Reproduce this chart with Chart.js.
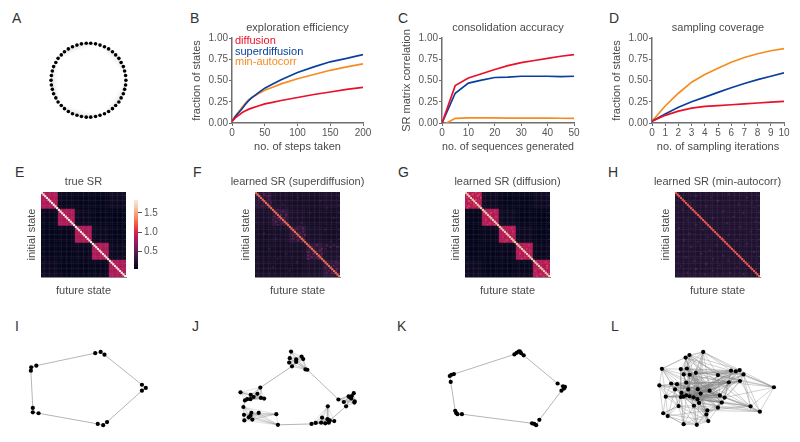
<!DOCTYPE html>
<html>
<head>
<meta charset="utf-8">
<title>Exploration figure</title>
<script src="https://cdn.jsdelivr.net/npm/chart.js@4"></script>
<style>
body { margin: 0; background: #fff; width: 800px; height: 442px; position: relative; overflow: hidden; }
canvas { position: absolute; }
.tag { position: absolute; font: 14px "Liberation Sans", Arial, sans-serif; color: #333; line-height: 14px; }
.key { position: absolute; font: 11px "Liberation Sans", Arial, sans-serif; line-height: 13px; left: 235px; }
</style>
</head>
<body>
<script>
// panel letters
const tags = [["A",12,11],["B",190,11],["C",398,11],["D",609,11],
              ["E",15,165],["F",193,165],["G",398,165],["H",608,165],
              ["I",15,319],["J",192,319],["K",397,319],["L",611,319]];

// top row curves
const seriesNames = ["diffusion", "superdiffusion", "min-autocorr"];
const seriesColors = ["#e8102a", "#0b3f9e", "#f68b1f"];
const keyTops = [34, 44.5, 55];

const stepsX = [0,5,10,15,20,25,30,40,50,60,75,100,125,150,175,200];
const stepsDiffusion = [.02,.06,.09,.12,.14,.16,.175,.20,.225,.24,.265,.30,.335,.365,.395,.42];
const stepsSuper = [.02,.075,.12,.165,.215,.26,.295,.355,.41,.45,.51,.595,.66,.72,.76,.805];
const stepsMinAuto = [.02,.08,.13,.18,.23,.27,.30,.345,.385,.415,.46,.52,.57,.62,.66,.695];

const seqX = [0,5,10,15,20,25,30,35,40,45,50];
const seqDiffusion = [0,.44,.53,.58,.63,.675,.71,.735,.76,.785,.805];
const seqSuper = [0,.35,.47,.505,.535,.54,.55,.55,.55,.545,.55];
const seqMinAuto = [-.03,.055,.06,.06,.06,.058,.058,.057,.057,.056,.055];

const iterX = [0,1,2,3,4,5,6,7,8,9,10];
const iterDiffusion = [.02,.09,.14,.175,.195,.205,.215,.225,.235,.245,.255];
const iterSuper = [.02,.105,.185,.25,.305,.36,.415,.465,.51,.55,.59];
const iterMinAuto = [.02,.2,.35,.48,.57,.645,.715,.77,.815,.85,.875];

// heatmaps: 5x5 block levels, diagonal level, bright single cells [row, col, value]
const trueBlocks = [[.8,.07,.05,.05,.1],[.05,.8,.08,.05,.04],[.04,.06,.8,.08,.05],[.05,.05,.07,.8,.08],[.08,.05,.05,.06,.8]];
const superBlocks = [[.26,.17,.15,.15,.17],[.17,.26,.17,.14,.14],[.14,.16,.25,.17,.14],[.14,.14,.16,.27,.18],[.16,.14,.14,.17,.27]];
const diffBlocks = [[.82,.1,.05,.05,.1],[.05,.82,.09,.05,.04],[.04,.07,.82,.09,.05],[.05,.05,.07,.82,.07],[.09,.05,.05,.07,.82]];
const minBlocks = [[.2,.2,.2,.2,.2],[.2,.2,.2,.2,.2],[.2,.2,.2,.2,.2],[.2,.2,.2,.2,.2],[.2,.2,.2,.2,.2]];
const trueDiag = 1.84, superDiag = 1.25, diffDiag = 1.65, minDiag = 1.18;
const trueHot = [];
const superHot = [[1,5,.45],[2,6,.42],[2,8,.5],[3,7,.38],[4,2,.4],[4,8,.42],[5,5,.5],[6,2,.38],[6,9,.42],[7,7,.36],[8,4,.4],
  [10,13,.5],[11,16,.55],[12,12,.42],[13,15,.5],[13,18,.55],[14,11,.5],[15,13,.6],[15,17,.42],[16,10,.45],[16,14,.52],[17,12,.55],[18,16,.46],[18,19,.5],[19,13,.4],
  [20,26,.42],[21,28,.5],[22,23,.42],[23,28,.48],[24,26,.52],[25,22,.45],[25,29,.55],[26,24,.46],[27,22,.5],[27,28,.44],[28,25,.5],[29,27,.42],[21,24,.38],
  [31,36,.55],[32,33,.42],[33,39,.6],[34,38,.55],[35,31,.52],[35,35,.45],[36,34,.6],[37,31,.55],[37,38,.5],[38,33,.6],[38,36,.48],[39,31,.55],[39,37,.5],[36,39,.52],
  [31,42,.42],[31,46,.42],[32,44,.45],[32,48,.42],[33,41,.38],
  [41,47,.42],[42,42,.5],[43,46,.55],[44,41,.4],[45,48,.5],[46,43,.5],[46,47,.52],[47,42,.46],[47,45,.5],[48,46,.45],
  [3,25,.32],[7,16,.34],[5,38,.3],[9,42,.32],[12,32,.32],[15,46,.3],[18,27,.33],[22,41,.3],[24,5,.33],[27,12,.34],[33,8,.34],[36,18,.34],[41,24,.33],[44,10,.34],[46,20,.33],[39,13,.3],[29,44,.33]];
const diffHot = [[1,4,1.1],[1,8,1.05],[2,7,1.15],[3,1,1.05],[3,9,1.1],[4,6,1.1],[5,2,1.15],[6,3,1.05],[7,5,1.05],[8,2,1.1],[8,6,1],[9,1,1.1],[9,8,1],[0,6,1.1],
  [11,17,1],[12,15,1.05],[14,18,1],[16,12,1.05],[18,14,1],[19,13,1.05],[19,17,1],[13,11,.98],
  [21,27,1],[23,28,1.05],[26,22,1],[28,24,1.05],[29,28,1.1],[29,23,1],
  [31,37,1],[33,36,1.05],[36,32,1.05],[38,35,1],[39,33,1.1],[34,38,.98],
  [41,47,1.05],[43,48,1.1],[45,43,1],[46,41,1.05],[48,44,1.1],[49,46,1.05],[49,42,1],[44,48,1]];
const minHot = [[2,12,.42],[1,31,.4],[3,42,.45],[5,25,.42],[6,9,.4],[7,37,.44],[8,18,.38],[9,46,.4],[10,4,.42],[11,28,.42],[12,40,.4],[13,14,.38],[14,34,.46],
  [15,22,.4],[16,7,.4],[17,47,.42],[18,30,.4],[19,12,.4],[20,38,.44],[21,2,.4],[22,16,.4],[23,44,.4],[24,8,.38],[25,31,.42],[26,19,.42],[27,28,.6],[28,36,.4],[28,5,.42],
  [29,13,.42],[30,42,.42],[31,24,.42],[32,9,.42],[33,33,.5],[34,20,.44],[35,2,.4],[35,46,.42],[36,15,.42],[37,28,.4],[37,38,.42],[38,6,.42],[39,22,.4],[40,11,.42],
  [40,31,.42],[41,43,.4],[42,18,.44],[43,3,.42],[43,26,.42],[44,36,.4],[45,12,.44],[45,47,.42],[46,22,.38],[47,7,.42],[47,32,.4],[48,17,.4],[48,40,.4],[3,21,.36],[4,4,.36],[6,45,.36]];
const colorbarTicks = [.5, 1, 1.5];
const rocketStops = ["#03051a","#221331","#451c47","#701f57","#a11a5b","#cb1b4f","#ed3f47","#f37651","#f6a47c","#f6cdb0","#faebdd"];

// ring layout in panel A
const ringX = [381,380,377,373,366,359,349,339,327,314,300,286,271,257,242,228,214,201,189,179,169,162,155,151,148,147,148,151,155,162,169,179,189,201,214,228,242,257,271,286,300,314,327,339,349,359,366,373,377,380];
const ringY = [241,256,270,284,297,310,321,331,340,347,352,356,358,358,356,352,347,340,331,321,310,297,284,270,256,241,226,212,198,185,172,161,151,142,135,130,126,124,124,126,130,135,142,151,161,172,185,198,212,226];

// network layouts
const iX = [285,302,314,431,443,431,322,310,293,108,90,90,84,85,101];
const iY = [125,121,130,226,236,245,345,355,351,317,314,300,181,170,165];
const iLinks = [[2,3],[5,6],[8,9],[11,12],[14,0],[0,1],[1,2],[3,4],[4,5],[6,7],[7,8],[9,10],[10,11],[12,13],[13,14]];

const jX = [272,305,310,268,288,288,266,275,317,323, 468,462,452,460,420,437,471,470,444,455, 387,369,386,393,407,379,366,390,349,336, 231,226,171,148,145,140,151,126,125,123, 176,114,167,146,155,145,135,128,178,188];
const jY = [120,136,144,141,145,153,155,167,177,178, 253,262,263,270,273,281,279,283,295,265, 295,331,336,340,342,349,347,347,348,351, 354,320,316,316,325,330,337,340,322,297, 235,250,255,258,265,272,272,276,268,270];
const jLinks = [[7,40],[9,14],[18,23],[29,30],[39,47]];

const kX = [345,358,362,366,374,352,480,497,503,500,492,423,413,407,400,181,160,163,167,146,143,148,156];
const kY = [129,120,119,125,132,124,222,231,233,238,245,338,355,351,349,320,309,316,320,217,198,194,192];
const kLinks = [[4,6],[10,11],[14,15],[16,19],[22,0],[6,7],[7,8],[8,9],[9,10],[11,12],[12,13],[13,14],[15,17],[17,18],[18,16],[19,20],[20,21],[21,22],[0,5],[5,1],[1,2],[2,3],[3,4]];

const lX = [310,267,255,181,240,259,249,268,287,356,397,412,424,436,425,390,210,228,257,173,222,242,263,293,330,302,362,377,193,240,248,257,267,280,292,297,368,281,233,356,458,487,531,323,320,185,199,326,249,290];
const lY = [121,131,139,175,176,174,193,194,188,195,181,183,179,193,214,218,222,224,219,228,241,252,241,240,245,254,260,267,264,265,264,260,263,266,272,284,283,293,294,299,295,312,234,308,321,317,326,342,352,354];
const lNeighbours = [[1,2,8,9,10,12,23,24,13,25,4,6,22,33],[2,3,4,5,9,15,24,26,22,34,12],[3,6,7,13,23,25,30,40,35,14],[4,16,20,19,28,22,6,18,31,24],[5,6,15,24,29,33,10,27,13],[7,10,14,23,35,36,32,26],[8,11,18,26,37,31,24,15],[12,15,24,32,39,41,21,36,27],[9,10,13,23,27,36,25,33,30],[10,11,14,24,26,40,42,25,34],
  [11,12,15,25,27,42,22,33,18],[14,23,24,36,42,31,35,26],[13,15,25,42,26,40,32,29],[14,26,40,41,42,24,23,33,37],[15,24,27,36,42,41,20,30,34],[23,24,26,27,39,42,18,21,29,16],[17,18,28,20,21,38,23,25,24,26],[19,20,22,29,34,24,26,15],[21,22,24,33,37,43,26,39],[20,28,29,45,38,24,23,14],
  [21,28,30,38,46,25,36,15],[22,23,35,38,47,48,24,26,27],[25,33,37,39,49,36,26,14],[24,25,26,34,39,44,27,36,47],[25,26,27,35,36,37,29,30,32],[26,34,36,37,43,44,32,30,27],[27,36,39,41,40,30,31],[36,40,41,42,39,33,31,34],[29,30,38,45,46,24,25,26,36],[30,31,38,46,48,39,36,24],
  [31,32,37,44,49,26,36],[32,33,35,48,24,40],[33,34,39,43,27,36],[34,35,47,49,26,27],[35,36,44,24,40],[37,43,44,47,49,41,24],[39,40,41,43,44],[38,43,47,48,49,39],[45,46,48,49,43,47],[43,44,41,40,47],
  [41,42,43],[42,43],[],[44,47,49],[47,48,49],[46,48,47,38],[48,49,43],[48,49,44],[49],[]];

// ---- helpers
const font = '"Liberation Sans", Arial, sans-serif';
const textColor = "#555";
const axisColor = "#6e6e6e";
Chart.defaults.font.family = font;
Chart.defaults.animation = false;
Chart.defaults.color = textColor;

for (const [t, x, y] of tags) {
    const d = document.createElement("div");
    d.className = "tag";
    d.textContent = t;
    d.style.left = x + "px";
    d.style.top = y + "px";
    document.body.appendChild(d);
}

function addCanvas(left, top, w, h) {
    const c = document.createElement("canvas");
    c.width = w;
    c.height = h;
    c.style.left = left + "px";
    c.style.top = top + "px";
    document.body.appendChild(c);
    return c;
}

function hexToRgb(h) {
    return [parseInt(h.slice(1,3),16), parseInt(h.slice(3,5),16), parseInt(h.slice(5,7),16)];
}

function rocket(v) {
    const t = Math.min(1, Math.max(0, (v - .03) / 1.81)) * (rocketStops.length - 1);
    const i = Math.min(rocketStops.length - 2, Math.floor(t));
    const a = hexToRgb(rocketStops[i]), b = hexToRgb(rocketStops[i + 1]);
    const f = t - i;
    return `rgb(${a.map((p, k) => Math.round(p + (b[k] - p) * f)).join(",")})`;
}

// empty axis on the right so that the chart title centres over the plot
function balanceAxis(w) {
    return {
        position: "right",
        afterFit(s) { s.width = w; },
        border: { display: false },
        grid: { display: false },
        ticks: { display: false }
    };
}

function lineChart(plotLeft, plotW, title, xLabel, yLabel, xs, ys, xMax, xStep) {
    const plotTop = 38, plotH = 85, yW = 42, xH = 31;
    const canvas = addCanvas(plotLeft - yW, 0, yW + plotW + yW, plotTop + plotH + xH);
    return new Chart(canvas, {
        type: "line",
        data: {
            datasets: ys.map((y, k) => ({
                label: seriesNames[k],
                data: y.map((v, i) => ({ x: xs[i], y: v })),
                borderColor: seriesColors[k],
                borderWidth: 1.7,
                pointRadius: 0,
                tension: 0
            }))
        },
        options: {
            responsive: false,
            plugins: {
                title: { display: true, text: title, color: "#4a4a4a", font: { size: 11, weight: "normal" }, padding: { top: 21.4, bottom: 3.4 } },
                tooltip: { enabled: false },
                legend: { display: false }
            },
            scales: {
                x: {
                    type: "linear", min: 0, max: xMax,
                    afterFit(s) { s.height = xH; },
                    border: { color: axisColor, width: 1.5 },
                    grid: { drawOnChartArea: false, tickLength: 3, color: axisColor },
                    ticks: { stepSize: xStep, maxRotation: 0, autoSkip: false, padding: 1, font: { size: 10 }, color: textColor },
                    title: { display: true, text: xLabel, color: "#4a4a4a", font: { size: 11 }, padding: 0 }
                },
                y: {
                    min: 0, max: 1,
                    afterFit(s) { s.width = yW; },
                    border: { color: axisColor, width: 1.5 },
                    grid: { drawOnChartArea: false, tickLength: 3, color: axisColor },
                    ticks: { stepSize: .25, padding: 1, font: { size: 10 }, color: textColor, callback: v => v.toFixed(2) },
                    title: { display: true, text: yLabel, color: "#4a4a4a", font: { size: 11 }, padding: 0 }
                },
                side: balanceAxis(yW)
            }
        }
    });
}

function heatCells(blocks, diag, hot) {
    const rest = [], line = [];
    const hotAt = {};
    for (const [r, c, v] of hot) hotAt[r * 50 + c] = v;
    for (let r = 0; r < 50; r++) {
        for (let c = 0; c < 50; c++) {
            if (r === c) line.push({ x: c, y: r, v: diag });
            else rest.push({ x: c, y: r, v: hotAt[r * 50 + c] ?? blocks[Math.floor(r / 10)][Math.floor(c / 10)] });
        }
    }
    return [rest, line];
}

function heatmap(plotLeft, title, blocks, diag, hot) {
    const plotTop = 192, plotH = 85, plotW = 85, yW = 26, xH = 24, canvasTop = 165;
    const canvas = addCanvas(plotLeft - yW, canvasTop, yW + plotW + yW, plotTop - canvasTop + plotH + xH);
    const [rest, line] = heatCells(blocks, diag, hot);
    const shared = { pointStyle: "rect", pointBorderWidth: 0, pointBackgroundColor: ctx => rocket(ctx.raw.v) };
    return new Chart(canvas, {
        type: "scatter",
        data: {
            datasets: [
                { data: line, pointRadius: 1.5, order: 1, ...shared },
                { data: rest, pointRadius: 1.5, order: 2, ...shared }
            ]
        },
        options: {
            responsive: false,
            plugins: {
                legend: { display: false },
                tooltip: { enabled: false },
                title: { display: true, text: title, color: "#4a4a4a", font: { size: 11, weight: "normal" }, padding: { top: 10.7, bottom: 3.1 } }
            },
            scales: {
                x: {
                    min: -.5, max: 49.5,
                    afterFit(s) { s.height = xH; },
                    border: { color: "#8a8a8a", width: 1 },
                    grid: { display: false },
                    ticks: { display: false },
                    title: { display: true, text: "future state", color: "#4a4a4a", font: { size: 11 }, padding: { top: 0, bottom: 3 } }
                },
                y: {
                    reverse: true, min: -.5, max: 49.5,
                    afterFit(s) { s.width = yW; },
                    border: { color: "#8a8a8a", width: 1 },
                    grid: { display: false },
                    ticks: { display: false },
                    title: { display: true, text: "initial state", color: "#4a4a4a", font: { size: 11 }, padding: { top: 10.4, bottom: 0 } }
                },
                side: balanceAxis(yW)
            }
        }
    });
}

function colorbar() {
    const levels = [];
    for (let i = 0; i < 60; i++) levels.push(.03 + 1.81 * i / 60);
    const step = 1.81 / 60;
    const canvas = addCanvas(134, 192, 34, 85);
    return new Chart(canvas, {
        type: "bar",
        data: {
            labels: ["cb"],
            datasets: levels.map(v => ({ data: [[v - .002, v + step + .002]], backgroundColor: rocket(v + step / 2), grouped: false, barPercentage: 1, categoryPercentage: 1 }))
        },
        options: {
            responsive: false,
            plugins: { legend: { display: false }, tooltip: { enabled: false } },
            scales: {
                x: { display: false },
                y: {
                    position: "right", min: .03, max: 1.84,
                    afterFit(s) { s.width = 30; },
                    afterBuildTicks(s) { s.ticks = colorbarTicks.map(v => ({ value: v })); },
                    border: { display: false },
                    grid: { drawOnChartArea: false, tickLength: 4, color: "#555" },
                    ticks: { padding: 2, font: { size: 10 }, color: textColor, callback: v => v.toFixed(1) }
                }
            }
        }
    });
}

function segments(xs, ys, pairs) {
    const pts = [];
    for (const [a, b] of pairs) {
        pts.push({ x: xs[a], y: ys[a] }, { x: xs[b], y: ys[b] }, { x: NaN, y: NaN });
    }
    return pts;
}

function cliquePairs(size, count) {
    const pairs = [];
    for (let g = 0; g < count; g++) {
        for (let a = 0; a < size; a++) {
            for (let b = a + 1; b < size; b++) pairs.push([g * size + a, g * size + b]);
        }
    }
    return pairs;
}

// every network panel is a 200 wide canvas, its data run 0-600 across
function network(left, top, h, xs, ys, edgeSets, dotR) {
    const canvas = addCanvas(left, top, 200, h);
    const edgeData = edgeSets.map(e => ({
        data: segments(xs, ys, e.pairs),
        showLine: true, spanGaps: false, pointRadius: 0,
        borderColor: e.color, borderWidth: e.width, order: 2
    }));
    return new Chart(canvas, {
        type: "scatter",
        data: {
            datasets: edgeData.concat([{
                data: xs.map((x, i) => ({ x: x, y: ys[i] })),
                pointRadius: dotR, pointBackgroundColor: "#000", pointBorderWidth: 0, order: 1
            }])
        },
        options: {
            responsive: false,
            plugins: { legend: { display: false }, tooltip: { enabled: false } },
            scales: {
                x: { display: false, min: 0, max: 600 },
                y: { display: false, reverse: true, min: 0, max: h * 3 }
            }
        }
    });
}

// ---- panels
network(0, 0, 155, ringX, ringY, [{ pairs: cliquePairs(10, 5), color: "rgba(0,0,0,0.022)", width: 1 }], 1.8);

lineChart(232, 131, "exploration efficiency", "no. of steps taken", "fraction of states", stepsX, [stepsDiffusion, stepsSuper, stepsMinAuto], 200, 50);
lineChart(442, 132, "consolidation accuracy", "no. of sequences generated", "SR matrix correlation", seqX, [seqDiffusion, seqSuper, seqMinAuto], 50, 10);
lineChart(652, 132, "sampling coverage", "no. of sampling iterations", "fraction of states", iterX, [iterDiffusion, iterSuper, iterMinAuto], 10, 1);

seriesNames.forEach((n, k) => {
    const d = document.createElement("div");
    d.className = "key";
    d.textContent = n;
    d.style.top = keyTops[k] + "px";
    d.style.color = seriesColors[k];
    document.body.appendChild(d);
});

heatmap(41, "true SR", trueBlocks, trueDiag, trueHot);
colorbar();
heatmap(255, "learned SR (superdiffusion)", superBlocks, superDiag, superHot);
heatmap(465, "learned SR (diffusion)", diffBlocks, diffDiag, diffHot);
heatmap(675, "learned SR (min-autocorr)", minBlocks, minDiag, minHot);

const lPairs = [];
lNeighbours.forEach((list, a) => list.forEach(b => lPairs.push([a, b])));

network(0, 310, 132, iX, iY, [{ pairs: iLinks, color: "#b5b5b5", width: 1 }], 2.1);
network(200, 310, 132, jX, jY, [{ pairs: cliquePairs(10, 5), color: "rgba(120,120,120,0.35)", width: .6 }, { pairs: jLinks, color: "#b5b5b5", width: 1 }], 2.1);
network(400, 310, 132, kX, kY, [{ pairs: kLinks, color: "#b5b5b5", width: 1 }], 2.1);
network(600, 310, 132, lX, lY, [{ pairs: lPairs, color: "rgba(130,130,130,0.6)", width: .6 }], 2.1);
</script>
</body>
</html>
